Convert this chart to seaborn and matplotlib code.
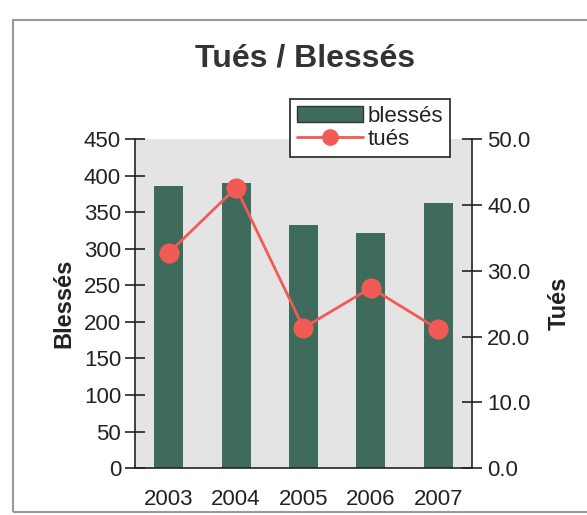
import matplotlib
matplotlib.use("Agg")
import matplotlib.pyplot as plt
from matplotlib.patches import Patch, Rectangle
from matplotlib.lines import Line2D
import seaborn as sns
import pandas as pd

years = ["2003", "2004", "2005", "2006", "2007"]
blesses = [386, 390, 332, 321, 362]
tues = [32.7, 42.6, 21.3, 27.4, 21.1]

df = pd.DataFrame({"annee": years, "blesses": blesses, "tues": tues})

sns.set_style("white")
plt.rcParams["font.family"] = ["Liberation Sans", "DejaVu Sans"]

BAR = "#3f6b5c"
RED = "#f25a55"
TXT = "#222222"

fig = plt.figure(figsize=(5.87, 5.15), dpi=100)
ax = fig.add_axes([0.230, 0.091, 0.574, 0.639])
ax.set_facecolor("#e3e4e3")

sns.barplot(data=df, x="annee", y="blesses", color=BAR, width=0.43,
            saturation=1, ax=ax, zorder=2, edgecolor=BAR, linewidth=0)
ax.set_xlim(-0.5, 4.5)
ax.set_ylim(0, 450)
ax.set_yticks(range(0, 451, 50))
ax.set_xlabel("")
ax.set_ylabel("Blessés", fontsize=17, fontweight="bold", color=TXT, labelpad=6)

ax2 = ax.twinx()
sns.pointplot(data=df, x="annee", y="tues", color=RED, ax=ax2,
              markers="o", markersize=13, linewidth=2)
ax2.set_xlim(-0.5, 4.5)
ax2.set_ylim(0, 50)
ax2.set_yticks(range(0, 51, 10))
ax2.set_yticklabels([f"{v:.1f}" for v in range(0, 51, 10)])
ax2.set_ylabel("Tués", fontsize=17, fontweight="bold", color=TXT, labelpad=12)

for a in (ax, ax2):
    for s in a.spines.values():
        s.set_visible(False)
    a.tick_params(labelsize=16, colors=TXT, length=0)

ax.spines["left"].set_visible(True)
ax.spines["bottom"].set_visible(True)
ax2.spines["right"].set_visible(True)
for s in (ax.spines["left"], ax.spines["bottom"], ax2.spines["right"]):
    s.set_color("#222222")
    s.set_linewidth(1.2)

ax.tick_params(axis="y", direction="inout", length=14, width=1.2, color="#222222", pad=3)
ax2.tick_params(axis="y", direction="inout", length=14, width=1.2, color="#222222", pad=4)
ax.tick_params(axis="x", length=0, pad=15)
ax.set_xticks([0.5, 1.5, 2.5, 3.5], minor=True)
ax.tick_params(axis="x", which="minor", direction="out", length=6, width=0.8, color="#777777")

fig.suptitle("Tués / Blessés", x=0.52, y=0.915, fontsize=23, fontweight="bold", color="#333333")

handles = [Patch(facecolor=BAR, edgecolor="#333333", linewidth=1),
           Line2D([], [], color=RED, linewidth=2, marker="o", markersize=11)]
leg = fig.legend(handles, ["blessés", "tués"], loc="upper left",
                 bbox_to_anchor=(0.494, 0.808), frameon=True, fancybox=False,
                 fontsize=16, handlelength=3.0, handletextpad=0.2,
                 borderpad=0.3, labelspacing=0.12, borderaxespad=0)
leg.get_frame().set_edgecolor("#222222")
leg.get_frame().set_linewidth(1.2)
leg.get_frame().set_facecolor("white")
leg.get_frame().set_alpha(1)
for t in leg.get_texts():
    t.set_color(TXT)

# chart border
fig.add_artist(Rectangle((13 / 587, 1 - 512 / 515), 600 / 587, (512 - 20) / 515,
                         transform=fig.transFigure, fill=False,
                         edgecolor="#9a9a9a", linewidth=1.5))

fig.savefig("out.png", dpi=100)
